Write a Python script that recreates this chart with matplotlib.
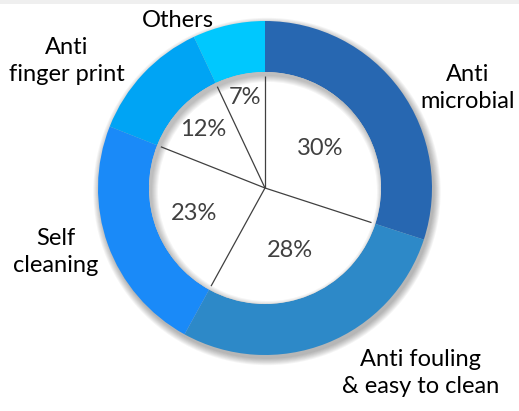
import numpy as np
import matplotlib
matplotlib.use("Agg")
import matplotlib.pyplot as plt
from matplotlib.patches import Circle, Wedge, Rectangle

# ---- data ----
categories = ["Anti\nmicrobial", "Anti fouling\n& easy to clean", "Self\ncleaning",
              "Anti\nfinger print", "Others"]
values = [30, 28, 23, 12, 7]
pct_labels = ["30%", "28%", "23%", "12%", "7%"]
colors = ["#2767B1", "#2D89C8", "#1A8AF8", "#00A4F4", "#00C8FE"]

# ---- layout (pixel space) ----
W, H = 519, 411
cx, cy = 265, H - 188
R_out, R_in = 167, 116
pct_radius = [68, 67, 75, 85, 93]
label_pos = [(468, 88), (421, 373), (56, 252), (67, 61), (178, 21)]

fig = plt.figure(figsize=(W / 100, H / 100), dpi=100)
ax = fig.add_axes([0, 0, 1, 1])
plt.rcParams['font.family'] = ['Lato', 'DejaVu Sans']

# light top strip
ax.add_patch(Rectangle((0, H - 4), W, 4, color="#efefef", lw=0, zorder=0))

# drop shadow of the ring
for i in range(8):
    ax.add_patch(Circle((cx + 2, cy - 3.5), R_out + 0.4 + i * 0.9, color="black",
                        alpha=0.04, lw=0, zorder=1))

wedges, _ = ax.pie(values, colors=colors, radius=R_out, center=(cx, cy),
                   startangle=90, counterclock=False,
                   wedgeprops=dict(width=R_out - R_in, linewidth=0, zorder=2))
for w in wedges:
    w.set_zorder(2)

hole = Circle((cx, cy), R_in, color="white", lw=0, zorder=3)
ax.add_patch(hole)

# inner shadow along the top-left edge of the hole
for i in range(7):
    sh = Wedge((cx + 2.5, cy - 3.5), 400, 0, 360, width=400 - (R_in - 0.5 - i * 1.0),
               color="black", alpha=0.04, lw=0, zorder=4)
    ax.add_patch(sh)
    sh.set_clip_path(hole)

# divider lines
bounds = np.concatenate([[0], np.cumsum(values)]) / np.sum(values) * 360.0
for b in bounds[:-1]:
    t = np.deg2rad(90 - b)
    ax.plot([cx, cx + (R_in - 4) * np.cos(t)], [cy, cy + (R_in - 4) * np.sin(t)],
            color="#404040", lw=0.9, zorder=5, solid_capstyle="butt")

# percentage labels
for i, lab in enumerate(pct_labels):
    mid = (bounds[i] + bounds[i + 1]) / 2
    t = np.deg2rad(90 - mid)
    ax.text(cx + pct_radius[i] * np.cos(t), cy + pct_radius[i] * np.sin(t), lab,
            ha="center", va="center", fontsize=17, color="#404040", zorder=6)

# category labels
for lab, (x, y) in zip(categories, label_pos):
    ax.text(x, H - y, lab, ha="center", va="center", fontsize=17, color="black",
            linespacing=1.3, zorder=6)

ax.set_xlim(0, W)
ax.set_ylim(0, H)
ax.set_aspect("auto")
ax.axis("off")
fig.savefig("out.png", dpi=100)
